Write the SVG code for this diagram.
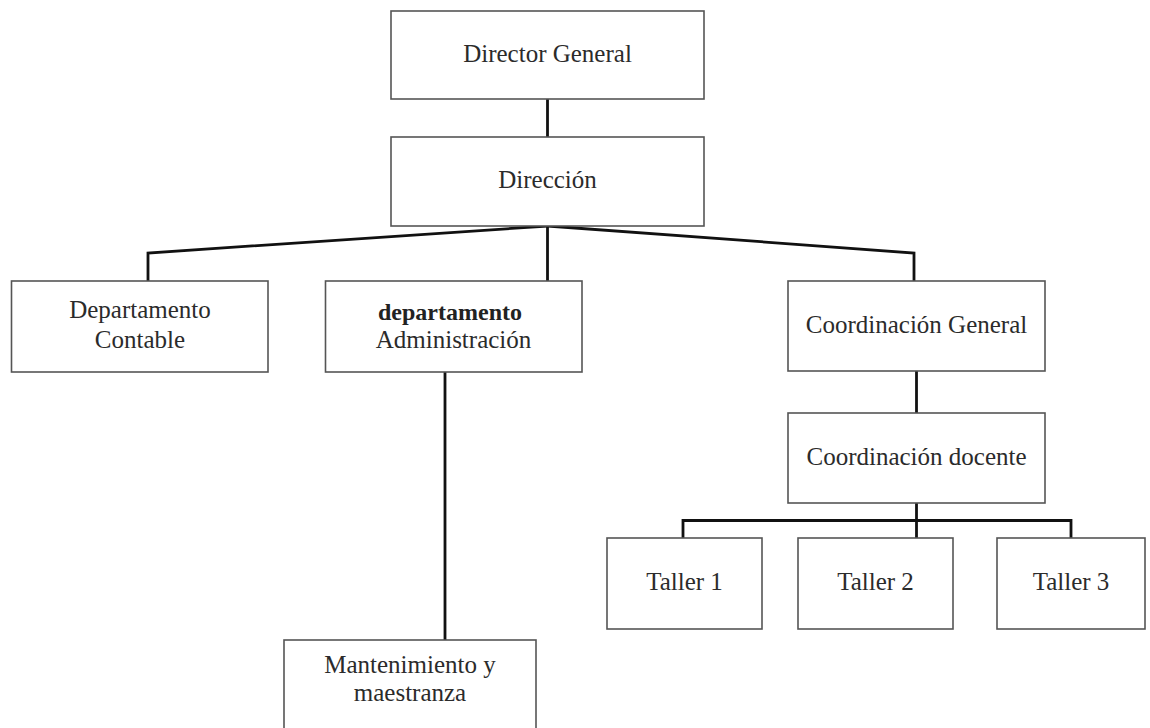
<svg xmlns="http://www.w3.org/2000/svg" width="1150" height="728" viewBox="0 0 1150 728">
<style>
.box{fill:#fff;stroke:#555;stroke-width:1.6}
.t{font-family:"Liberation Serif","Times New Roman",serif;font-size:25px;fill:#2b2b2b;text-anchor:middle}
.b{font-family:"Liberation Serif","Times New Roman",serif;font-size:24px;font-weight:bold;fill:#222;text-anchor:middle}
.c{fill:none;stroke:#111;stroke-width:2.8;stroke-linejoin:miter}
</style>
<rect width="1150" height="728" fill="#fff"/>
<g id="connectors">
<path class="c" d="M547.5 99 V137"/>
<path class="c" d="M547.5 226 L148 253 V281"/>
<path class="c" d="M547.5 226 V281"/>
<path class="c" d="M547.5 226 L914 253 V281"/>
<path class="c" d="M445 372 V640"/>
<path class="c" d="M916.5 371 V413"/>
<path class="c" d="M916.5 503 V538"/>
<path class="c" d="M683 538 V520.5 H1071 V538"/>
</g>
<g id="director-general">
<rect class="box" x="391" y="11" width="313" height="88"/>
<text class="t" x="547.5" y="62">Director General</text>
</g>
<g id="direccion">
<rect class="box" x="391" y="137" width="313" height="89"/>
<text class="t" x="547.5" y="188">Dirección</text>
</g>
<g id="departamento-contable">
<rect class="box" x="11.5" y="281" width="256.5" height="91"/>
<text class="t" x="140" y="318">Departamento</text>
<text class="t" x="140" y="348">Contable</text>
</g>
<g id="departamento-administracion">
<rect class="box" x="325.5" y="281" width="256.5" height="91"/>
<text class="b" x="450" y="320">departamento</text>
<text class="t" x="453.5" y="348">Administración</text>
</g>
<g id="coordinacion-general">
<rect class="box" x="788" y="281" width="257" height="90"/>
<text class="t" x="916.5" y="333">Coordinación General</text>
</g>
<g id="coordinacion-docente">
<rect class="box" x="788" y="413" width="257" height="90"/>
<text class="t" x="916.5" y="465">Coordinación docente</text>
</g>
<g id="taller-1">
<rect class="box" x="607" y="538" width="155" height="91"/>
<text class="t" x="684.5" y="590">Taller 1</text>
</g>
<g id="taller-2">
<rect class="box" x="798" y="538" width="155" height="91"/>
<text class="t" x="875.5" y="590">Taller 2</text>
</g>
<g id="taller-3">
<rect class="box" x="997" y="538" width="148" height="91"/>
<text class="t" x="1071" y="590">Taller 3</text>
</g>
<g id="mantenimiento">
<rect class="box" x="284" y="640" width="252" height="100"/>
<text class="t" x="410" y="673">Mantenimiento y</text>
<text class="t" x="410" y="701">maestranza</text>
</g>
</svg>
